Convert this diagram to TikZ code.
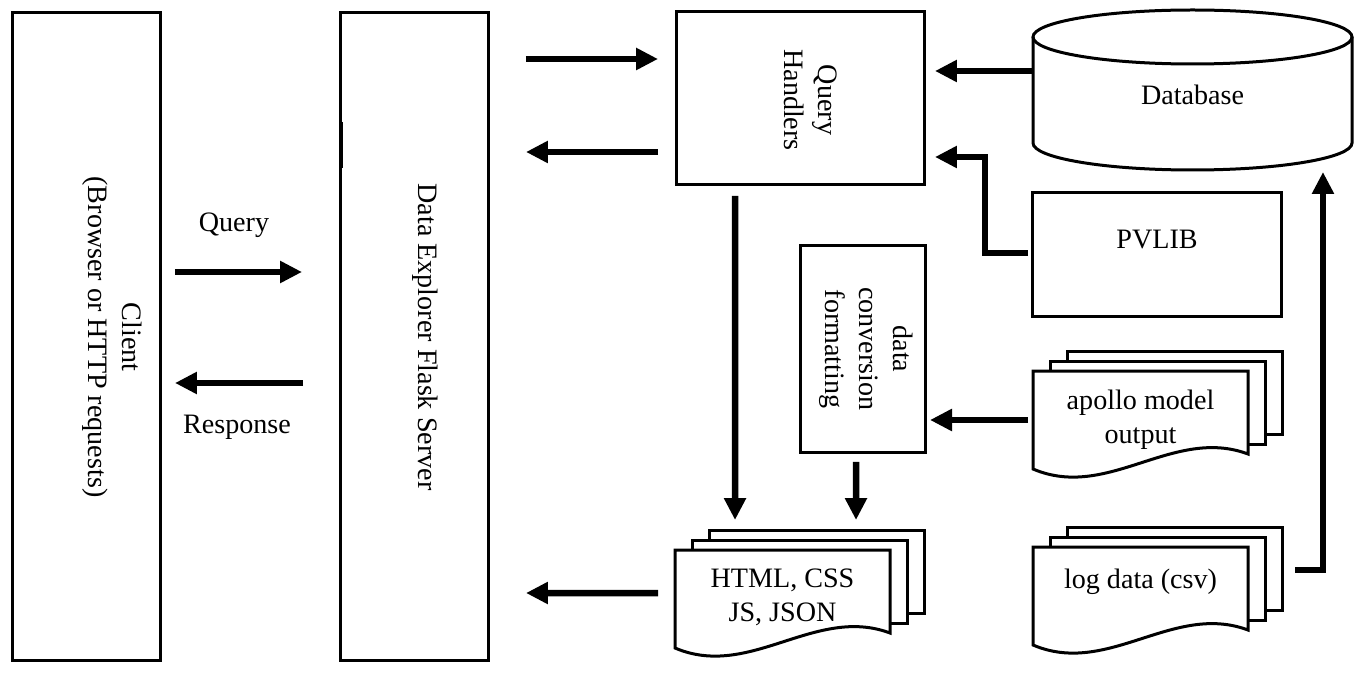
\documentclass[tikz,border=0pt]{standalone}
\usepackage{fontspec}
\setmainfont{Liberation Serif}
\usetikzlibrary{arrows.meta,calc}
\tikzset{
  box/.style={draw, line width=0.06cm, outer sep=0pt, inner sep=0pt},
  sheet/.style={draw, line width=0.06cm, fill=white},
  txt/.style={inner sep=0pt, outer sep=0pt, align=center, font=\fontsize{16}{19.5}\selectfont},
  arrow/.style={line width=0.13cm, -{Triangle[length=0.44cm,width=0.42cm]}},
  docs/.pic={
    \draw[sheet] (34,-20) rectangle (249,63);
    \draw[sheet] (17,-10) rectangle (232,73);
    \draw[sheet] (0,0) -- (215,0) -- (215,83) .. controls (140,55) and (75,130) .. (0,98) -- cycle;
  }
}
\begin{document}
\begin{tikzpicture}[x=0.02cm, y=-0.02cm]
  \useasboundingbox (0,0) rectangle (1361,675);
  \node[box, minimum width=2.98cm, minimum height=12.98cm] (client) at (86.5,336.5) {};
  \node[txt, rotate=-90] (clienttxt) at (112,337) {Client\\(Browser or HTTP requests)};
  \node[box, minimum width=2.98cm, minimum height=12.98cm] (server) at (414.5,336.5) {};
  \node[txt, rotate=-90] (servertxt) at (425,337) {Data Explorer Flask Server};
  \draw[line width=0.02cm] (342,122) -- (342,168);
  \node[box, minimum width=4.98cm, minimum height=3.48cm] (qh) at (800.5,98) {};
  \node[txt, rotate=-90] (qhtxt) at (811,100) {Query\\Handlers};
  \node[box, minimum width=2.5cm, minimum height=4.16cm] (conv) at (862.5,349) {};
  \node[txt, rotate=-90] (convtxt) at (866,349) {data\\conversion\\formatting};
  \node[box, minimum width=5cm, minimum height=2.5cm] (pvlib) at (1157,254.5) {};
  \node[txt] (pvlibtxt) at (1157,240) {PVLIB};
  \draw[line width=0.06cm] (1033,37) -- (1033,143) arc[start angle=180, end angle=0, x radius=159.5, y radius=27] -- (1352,37);
  \draw[line width=0.06cm] (1192.5,37) ellipse[x radius=159.5, y radius=27];
  \node[txt, minimum width=6.38cm] (db) at (1192.5,95) {Database};
  \pic at (675,550) {docs};
  \node[txt, minimum width=4.3cm] (html) at (782.5,597) {HTML, CSS\\JS, JSON};
  \pic at (1033,371) {docs};
  \node[txt, minimum width=4.3cm] (apollo) at (1140.5,420) {apollo model\\output};
  \pic at (1033,547) {docs};
  \node[txt, minimum width=4.3cm] (log) at (1140.5,582) {log data (csv)};
  \node[txt] (qlbl) at (234,225) {Query};
  \node[txt] (rlbl) at (237,427) {Response};
  \draw[arrow] ($(client.east)+(14,-64.5)$) -- ($(server.west)+(-38,-64.5)$);
  \draw[arrow] ($(server.west)+(-37,46.5)$) -- ($(client.east)+(14,46.5)$);
  \draw[arrow] ($(server.east)+(37,-277.5)$) -- ($(qh.west)+(-18,-39)$);
  \draw[arrow] ($(qh.west)+(-18,54)$) -- ($(server.east)+(37,-184.5)$);
  \draw[arrow] ($(html.west)+(-17,-4)$) -- ($(server.east)+(37,256.5)$);
  \draw[arrow] ($(qh.south)+(-65.5,11)$) -- ($(html.west)+(60,-77)$);
  \draw[arrow] ($(conv.south)+(-6.5,9)$) -- ($(html.west)+(181,-77)$);
  \draw[arrow] ($(db.west)+(0,-24)$) -- ($(qh.east)+(10,-27)$);
  \draw[arrow] ($(pvlib.west)+(-4,-1.5)$) -- ++(-43,0) |- ($(qh.east)+(10,59)$);
  \draw[arrow] ($(apollo.west)+(-5,0)$) -- ($(conv.east)+(5,71)$);
  \draw[arrow] ($(log.east)+(47,-12)$) -| ($(db.east)+(-29,77)$);
\end{tikzpicture}
\end{document}
